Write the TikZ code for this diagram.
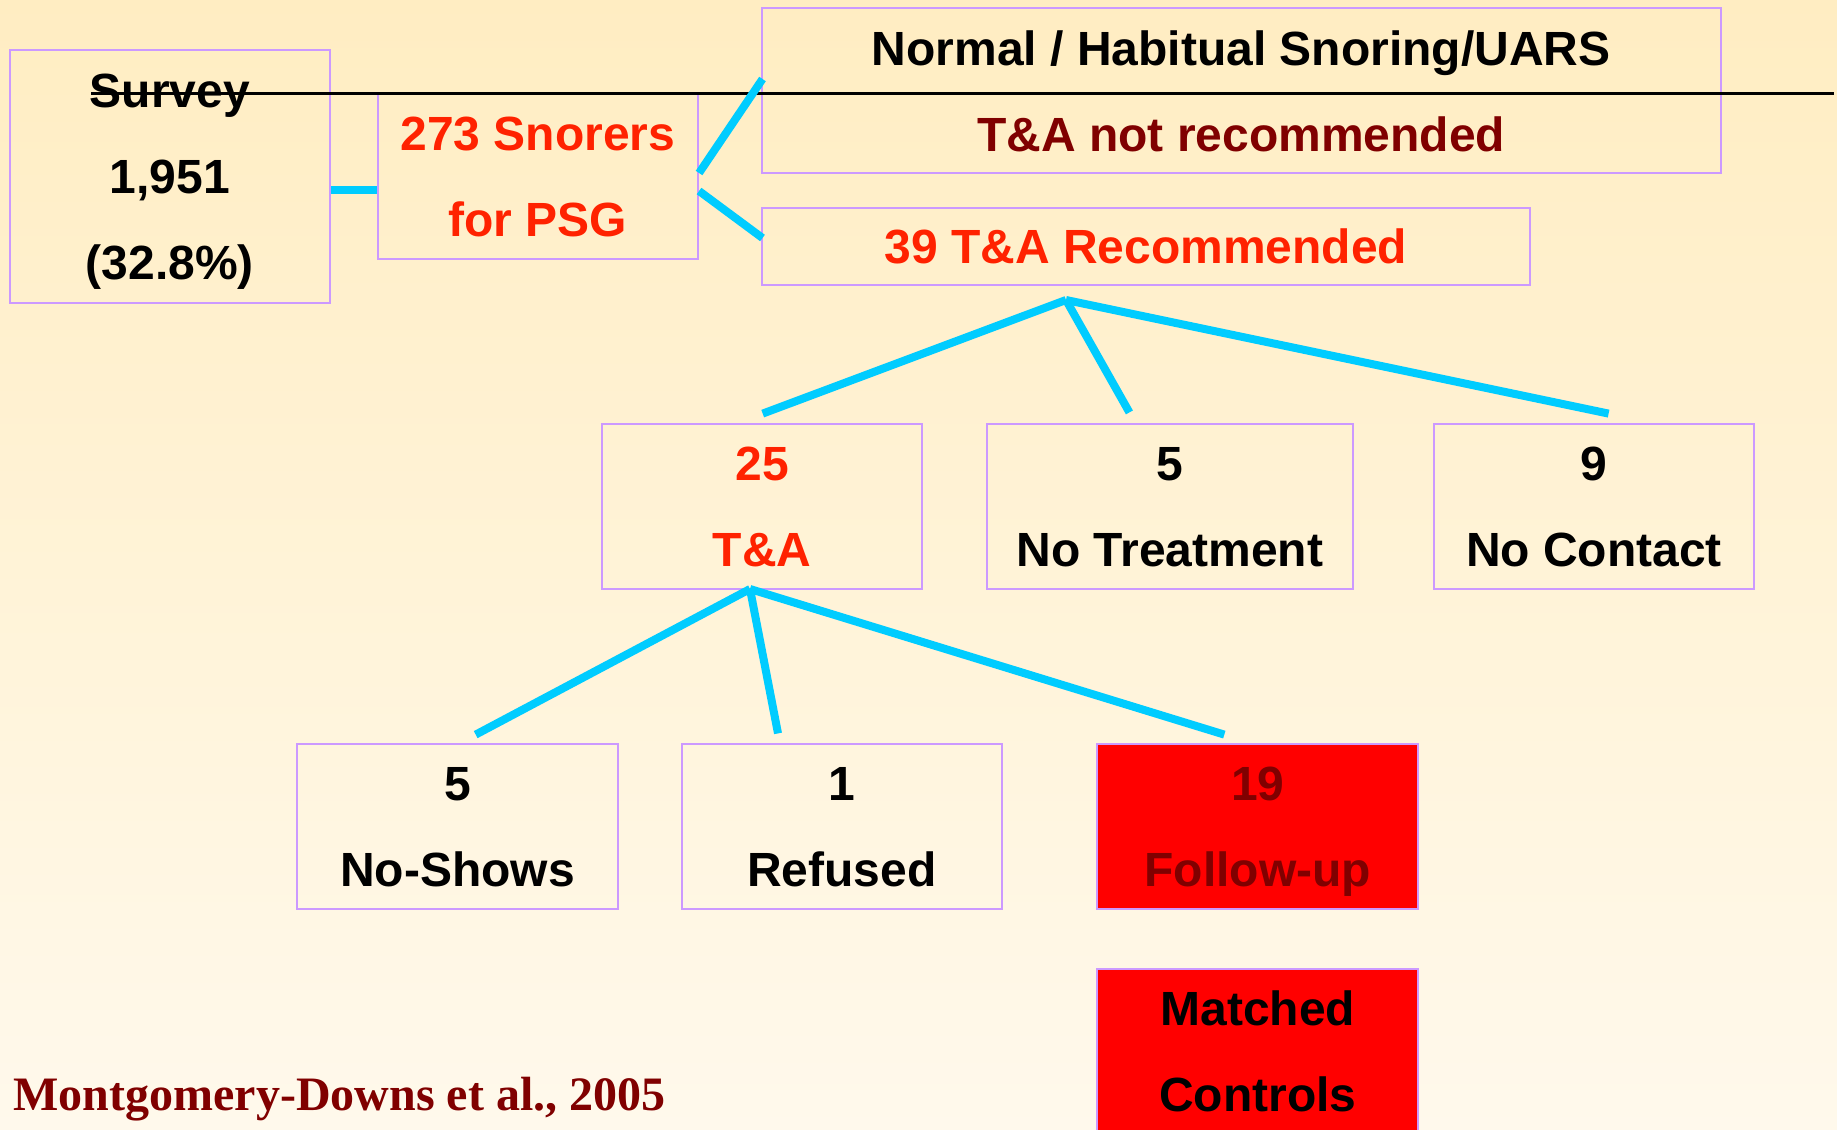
\documentclass[tikz,border=0pt]{standalone}
\usepackage{fontspec}
\setmainfont{Liberation Sans}
\newfontfamily\citefont{Liberation Serif}

\definecolor{boxline}{HTML}{CC99FF}
\definecolor{linkcyan}{HTML}{00CCFF}
\definecolor{hot}{HTML}{FF2200}
\definecolor{deepred}{HTML}{800000}
\definecolor{flagred}{HTML}{FF0000}
\definecolor{bgtop}{HTML}{FFEDC2}
\definecolor{bgbot}{HTML}{FFF9EC}

\begin{document}
\begin{tikzpicture}[x=1pt,y=-1pt,
  box/.style={draw=boxline,line width=2pt,rectangle,inner sep=0pt,
    align=center,text depth=0pt,minimum height=165pt,minimum width=320.5pt,
    font=\fontsize{48}{86}\selectfont\bfseries},
  flag/.style={box,fill=flagred},
  link/.style={draw=linkcyan,line width=8pt,line cap=butt}]

% page and background
\useasboundingbox (0,0) rectangle (1837,1130);
\shade[top color=bgtop,bottom color=bgbot] (0,0) rectangle (1837,1130);

% boxes
\node[box,minimum height=253pt] (survey) at (169.9,176.5) {Survey\\1,951\\(32.8\%)};
\node[box,text=hot] (snorers) at (537.8,176.3) {273 Snorers\\for PSG};
\node[box,minimum width=959.5pt] (normal) at (1241.25,90.8)
  {Normal / Habitual Snoring/UARS\\\textcolor{deepred}{T\&A not recommended}};
\node[box,minimum width=768.5pt,minimum height=77pt,text=hot] (rec) at (1145.75,246) {39 T\&A Recommended};

\node[box,text=hot] (ta) at (762.1,506.7) {25\\T\&A};
\node[box,minimum width=366.7pt] (notreat) at (1169.85,506.7) {5\\No Treatment};
\node[box] (nocontact) at (1594,506.7) {9\\No Contact};

\node[box] (noshow) at (457.5,826.6) {5\\No-Shows};
\node[box] (refused) at (841.8,826.6) {1\\Refused};
\node[flag,text=deepred] (follow) at (1257.7,826.6) {19\\Follow-up};
\node[flag] (matched) at (1257.7,1051.5) {Matched\\Controls};

% struck-through rule across the top
\draw[line width=3.5pt,black] (91,93.5) -- (1834,93.5);

% connector end points
\coordinate (sOut) at (survey.east |- 0,190);
\coordinate (sIn) at (snorers.west |- 0,190);
\coordinate (snUp) at (snorers.east |- 0,173);
\coordinate (snDown) at (snorers.east |- 0,191);
\coordinate (nIn) at (762.5,79);
\coordinate (rIn) at (762.5,238);
\coordinate (recFork) at (1066,300);
\coordinate (taIn) at (762.7,413.6);
\coordinate (ntIn) at (1129.4,412.4);
\coordinate (ncIn) at (1608.6,413.6);
\coordinate (taFork) at (750,589);
\coordinate (nsIn) at (475.7,734.6);
\coordinate (rfIn) at (778,733.4);
\coordinate (fuIn) at (1224.3,734.6);

% connectors
\draw[link] (sOut) -- (sIn);
\draw[link] (snUp) -- (nIn);
\draw[link] (snDown) -- (rIn);
\draw[link] (recFork) -- (taIn);
\draw[link] (recFork) -- (ntIn);
\draw[link] (recFork) -- (ncIn);
\draw[link] (taFork) -- (nsIn);
\draw[link] (taFork) -- (rfIn);
\draw[link] (taFork) -- (fuIn);

% reference
\node[anchor=base west,inner sep=0pt,text=deepred,
  font={\citefont\fontsize{48}{58}\selectfont\bfseries}] (cite) at (13.4,1110)
  {Montgomery-Downs et al., 2005};
\end{tikzpicture}
\end{document}
